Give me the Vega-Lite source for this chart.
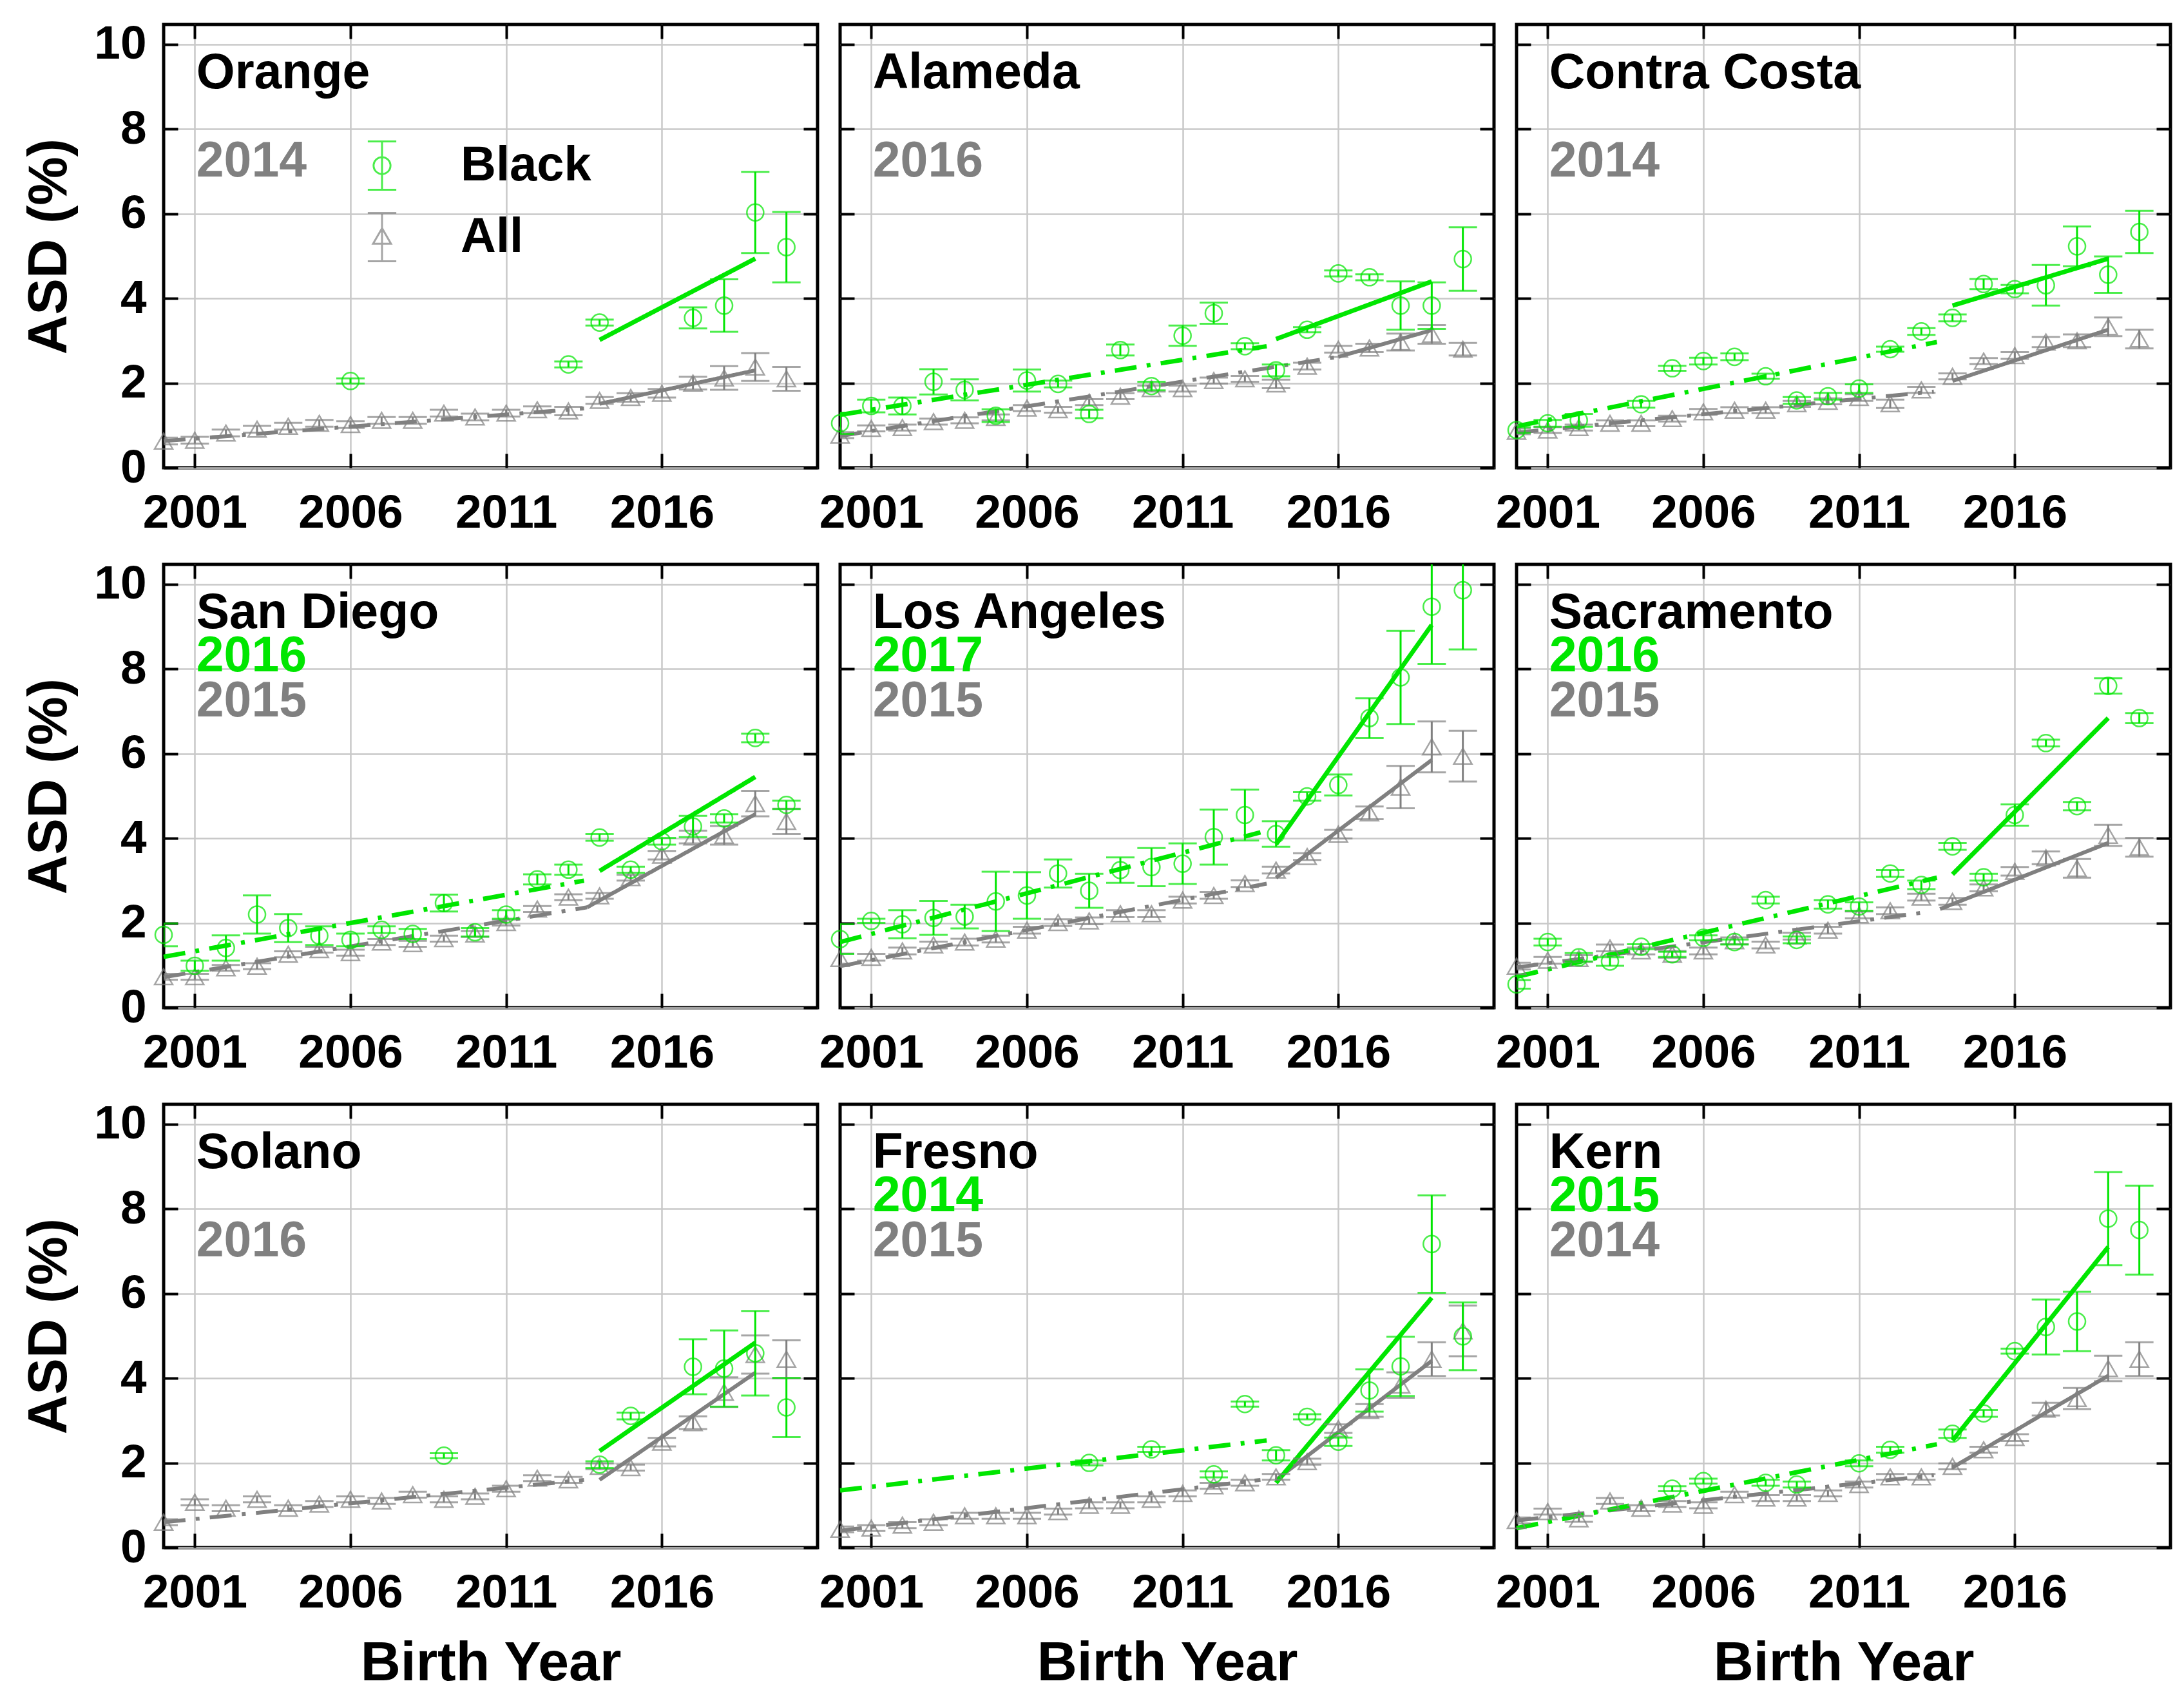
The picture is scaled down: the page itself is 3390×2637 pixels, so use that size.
{
"$schema":"https://vega.github.io/schema/vega-lite/v6.json",
"background":"white",
"padding":{"left":32,"top":30,"right":25,"bottom":10},
"config":{
 "font":"Liberation Sans",
 "view":{"stroke":"black","strokeWidth":5},
 "axis":{"labelFontSize":73,"labelFontWeight":"bold","labelColor":"black","grid":true,"gridColor":"#c8c8c8","gridWidth":2.5,"domain":false,"tickSize":-22,"tickColor":"black","tickWidth":4,"titleFontWeight":"bold","titleColor":"black","labelFlush":false,"labelOverlap":false},
 "axisX":{"labelPadding":56,"titleFontSize":86,"titlePadding":30},
 "axisY":{"labelPadding":49,"titleFontSize":85,"titlePadding":25}
},
"datasets":{"d":[
{"c":"Orange","g":"L","name":"Orange","b":"","a":"2014"},
{"c":"Alameda","g":"L","name":"Alameda","b":"","a":"2016"},
{"c":"Contra Costa","g":"L","name":"Contra Costa","b":"","a":"2014"},
{"c":"San Diego","g":"L","name":"San Diego","b":"2016","a":"2015"},
{"c":"Los Angeles","g":"L","name":"Los Angeles","b":"2017","a":"2015"},
{"c":"Sacramento","g":"L","name":"Sacramento","b":"2016","a":"2015"},
{"c":"Solano","g":"L","name":"Solano","b":"","a":"2016"},
{"c":"Fresno","g":"L","name":"Fresno","b":"2014","a":"2015"},
{"c":"Kern","g":"L","name":"Kern","b":"2015","a":"2014"},

{"c":"Orange","g":"fB","s":"post","x":2014,"v":3.02},{"c":"Orange","g":"fB","s":"post","x":2019,"v":4.94},
{"c":"Orange","g":"fA","s":"pre","x":2000,"v":0.63},{"c":"Orange","g":"fA","s":"pre","x":2013.5,"v":1.4},
{"c":"Orange","g":"fA","s":"post","x":2014,"v":1.51},{"c":"Orange","g":"fA","s":"post","x":2019,"v":2.3},
{"c":"Alameda","g":"fB","s":"pre","x":2000,"v":1.25},{"c":"Alameda","g":"fB","s":"pre","x":2013.7,"v":2.87},
{"c":"Alameda","g":"fB","s":"post","x":2014,"v":3.04},{"c":"Alameda","g":"fB","s":"post","x":2019,"v":4.4},
{"c":"Alameda","g":"fA","s":"pre","x":2000,"v":0.75},{"c":"Alameda","g":"fA","s":"pre","x":2016,"v":2.62},
{"c":"Alameda","g":"fA","s":"post","x":2016,"v":2.62},{"c":"Alameda","g":"fA","s":"post","x":2019,"v":3.25},
{"c":"Contra Costa","g":"fB","s":"pre","x":2000,"v":0.98},{"c":"Contra Costa","g":"fB","s":"pre","x":2013.5,"v":2.97},
{"c":"Contra Costa","g":"fB","s":"post","x":2014,"v":3.83},{"c":"Contra Costa","g":"fB","s":"post","x":2019,"v":4.94},
{"c":"Contra Costa","g":"fA","s":"pre","x":2000,"v":0.83},{"c":"Contra Costa","g":"fA","s":"pre","x":2013.4,"v":1.8},
{"c":"Contra Costa","g":"fA","s":"post","x":2014,"v":2.05},{"c":"Contra Costa","g":"fA","s":"post","x":2019,"v":3.26},
{"c":"San Diego","g":"fB","s":"pre","x":2000,"v":1.2},{"c":"San Diego","g":"fB","s":"pre","x":2013.5,"v":3.0},
{"c":"San Diego","g":"fB","s":"post","x":2014,"v":3.23},{"c":"San Diego","g":"fB","s":"post","x":2019,"v":5.45},
{"c":"San Diego","g":"fA","s":"pre","x":2000,"v":0.72},{"c":"San Diego","g":"fA","s":"pre","x":2013.6,"v":2.37},
{"c":"San Diego","g":"fA","s":"post","x":2013.6,"v":2.37},{"c":"San Diego","g":"fA","s":"post","x":2019,"v":4.57},
{"c":"Los Angeles","g":"fB","s":"pre","x":2000,"v":1.55},{"c":"Los Angeles","g":"fB","s":"pre","x":2013.5,"v":4.14},
{"c":"Los Angeles","g":"fB","s":"post","x":2014,"v":3.86},{"c":"Los Angeles","g":"fB","s":"post","x":2019,"v":9.04},
{"c":"Los Angeles","g":"fA","s":"pre","x":2000,"v":0.98},{"c":"Los Angeles","g":"fA","s":"pre","x":2013.7,"v":2.93},
{"c":"Los Angeles","g":"fA","s":"post","x":2014,"v":3.07},{"c":"Los Angeles","g":"fA","s":"post","x":2019,"v":5.85},
{"c":"Sacramento","g":"fB","s":"pre","x":2000,"v":0.73},{"c":"Sacramento","g":"fB","s":"pre","x":2013.5,"v":3.07},
{"c":"Sacramento","g":"fB","s":"post","x":2014,"v":3.15},{"c":"Sacramento","g":"fB","s":"post","x":2019,"v":6.84},
{"c":"Sacramento","g":"fA","s":"pre","x":2000,"v":0.95},{"c":"Sacramento","g":"fA","s":"pre","x":2013.2,"v":2.26},
{"c":"Sacramento","g":"fA","s":"post","x":2013.6,"v":2.33},{"c":"Sacramento","g":"fA","s":"post","x":2019,"v":3.89},
{"c":"Solano","g":"fB","s":"post","x":2014,"v":2.28},{"c":"Solano","g":"fB","s":"post","x":2019,"v":4.84},
{"c":"Solano","g":"fA","s":"pre","x":2000,"v":0.6},{"c":"Solano","g":"fA","s":"pre","x":2013.5,"v":1.6},
{"c":"Solano","g":"fA","s":"post","x":2014,"v":1.6},{"c":"Solano","g":"fA","s":"post","x":2019,"v":4.13},
{"c":"Fresno","g":"fB","s":"pre","x":2000,"v":1.35},{"c":"Fresno","g":"fB","s":"pre","x":2013.7,"v":2.53},
{"c":"Fresno","g":"fB","s":"post","x":2014,"v":1.53},{"c":"Fresno","g":"fB","s":"post","x":2019,"v":5.9},
{"c":"Fresno","g":"fA","s":"pre","x":2000,"v":0.4},{"c":"Fresno","g":"fA","s":"pre","x":2013.5,"v":1.6},
{"c":"Fresno","g":"fA","s":"post","x":2014,"v":1.6},{"c":"Fresno","g":"fA","s":"post","x":2019,"v":4.41},
{"c":"Kern","g":"fB","s":"pre","x":2000,"v":0.46},{"c":"Kern","g":"fB","s":"pre","x":2013.5,"v":2.44},
{"c":"Kern","g":"fB","s":"post","x":2014,"v":2.53},{"c":"Kern","g":"fB","s":"post","x":2019,"v":7.1},
{"c":"Kern","g":"fA","s":"pre","x":2000,"v":0.64},{"c":"Kern","g":"fA","s":"pre","x":2013.4,"v":1.71},
{"c":"Kern","g":"fA","s":"post","x":2014,"v":1.89},{"c":"Kern","g":"fA","s":"post","x":2019,"v":4.06},

{"c":"Orange","g":"A","x":2000,"v":0.63,"lo":0.55,"hi":0.71},
{"c":"Orange","g":"A","x":2001,"v":0.65,"lo":0.57,"hi":0.73},
{"c":"Orange","g":"A","x":2002,"v":0.82,"lo":0.74,"hi":0.9},
{"c":"Orange","g":"A","x":2003,"v":0.91,"lo":0.83,"hi":0.99},
{"c":"Orange","g":"A","x":2004,"v":0.98,"lo":0.9,"hi":1.06},
{"c":"Orange","g":"A","x":2005,"v":1.05,"lo":0.97,"hi":1.13},
{"c":"Orange","g":"A","x":2006,"v":1.02,"lo":0.94,"hi":1.1},
{"c":"Orange","g":"A","x":2007,"v":1.12,"lo":1.04,"hi":1.2},
{"c":"Orange","g":"A","x":2008,"v":1.12,"lo":1.04,"hi":1.2},
{"c":"Orange","g":"A","x":2009,"v":1.29,"lo":1.21,"hi":1.37},
{"c":"Orange","g":"A","x":2010,"v":1.2,"lo":1.12,"hi":1.28},
{"c":"Orange","g":"A","x":2011,"v":1.29,"lo":1.21,"hi":1.37},
{"c":"Orange","g":"A","x":2012,"v":1.37,"lo":1.29,"hi":1.45},
{"c":"Orange","g":"A","x":2013,"v":1.34,"lo":1.24,"hi":1.44},
{"c":"Orange","g":"A","x":2014,"v":1.59,"lo":1.51,"hi":1.67},
{"c":"Orange","g":"A","x":2015,"v":1.66,"lo":1.56,"hi":1.76},
{"c":"Orange","g":"A","x":2016,"v":1.76,"lo":1.66,"hi":1.86},
{"c":"Orange","g":"A","x":2017,"v":2.0,"lo":1.85,"hi":2.15},
{"c":"Orange","g":"A","x":2018,"v":2.12,"lo":1.84,"hi":2.4},
{"c":"Orange","g":"A","x":2019,"v":2.38,"lo":2.05,"hi":2.71},
{"c":"Orange","g":"A","x":2020,"v":2.1,"lo":1.82,"hi":2.38},
{"c":"Orange","g":"B","x":2006,"v":2.05,"lo":1.99,"hi":2.11},
{"c":"Orange","g":"B","x":2013,"v":2.44,"lo":2.37,"hi":2.51},
{"c":"Orange","g":"B","x":2014,"v":3.43,"lo":3.36,"hi":3.5},
{"c":"Orange","g":"B","x":2017,"v":3.54,"lo":3.29,"hi":3.79},
{"c":"Orange","g":"B","x":2018,"v":3.83,"lo":3.21,"hi":4.45},
{"c":"Orange","g":"B","x":2019,"v":6.03,"lo":5.07,"hi":6.99},
{"c":"Orange","g":"B","x":2020,"v":5.21,"lo":4.38,"hi":6.04},

{"c":"Alameda","g":"A","x":2000,"v":0.77,"lo":0.7,"hi":0.84},
{"c":"Alameda","g":"A","x":2001,"v":0.93,"lo":0.86,"hi":1.0},
{"c":"Alameda","g":"A","x":2002,"v":0.95,"lo":0.88,"hi":1.02},
{"c":"Alameda","g":"A","x":2003,"v":1.09,"lo":1.02,"hi":1.16},
{"c":"Alameda","g":"A","x":2004,"v":1.12,"lo":1.05,"hi":1.19},
{"c":"Alameda","g":"A","x":2005,"v":1.19,"lo":1.12,"hi":1.26},
{"c":"Alameda","g":"A","x":2006,"v":1.41,"lo":1.34,"hi":1.48},
{"c":"Alameda","g":"A","x":2007,"v":1.37,"lo":1.3,"hi":1.44},
{"c":"Alameda","g":"A","x":2008,"v":1.55,"lo":1.48,"hi":1.62},
{"c":"Alameda","g":"A","x":2009,"v":1.69,"lo":1.62,"hi":1.76},
{"c":"Alameda","g":"A","x":2010,"v":1.87,"lo":1.8,"hi":1.94},
{"c":"Alameda","g":"A","x":2011,"v":1.87,"lo":1.8,"hi":1.94},
{"c":"Alameda","g":"A","x":2012,"v":2.06,"lo":1.99,"hi":2.13},
{"c":"Alameda","g":"A","x":2013,"v":2.1,"lo":2.03,"hi":2.17},
{"c":"Alameda","g":"A","x":2014,"v":1.98,"lo":1.88,"hi":2.08},
{"c":"Alameda","g":"A","x":2015,"v":2.4,"lo":2.32,"hi":2.48},
{"c":"Alameda","g":"A","x":2016,"v":2.8,"lo":2.72,"hi":2.88},
{"c":"Alameda","g":"A","x":2017,"v":2.83,"lo":2.73,"hi":2.93},
{"c":"Alameda","g":"A","x":2018,"v":2.97,"lo":2.77,"hi":3.17},
{"c":"Alameda","g":"A","x":2019,"v":3.15,"lo":2.93,"hi":3.37},
{"c":"Alameda","g":"A","x":2020,"v":2.8,"lo":2.65,"hi":2.95},
{"c":"Alameda","g":"B","x":2000,"v":1.05,"lo":0.8,"hi":1.3},
{"c":"Alameda","g":"B","x":2001,"v":1.46,"lo":1.31,"hi":1.61},
{"c":"Alameda","g":"B","x":2002,"v":1.46,"lo":1.26,"hi":1.66},
{"c":"Alameda","g":"B","x":2003,"v":2.03,"lo":1.73,"hi":2.33},
{"c":"Alameda","g":"B","x":2004,"v":1.84,"lo":1.59,"hi":2.09},
{"c":"Alameda","g":"B","x":2005,"v":1.23,"lo":1.08,"hi":1.38},
{"c":"Alameda","g":"B","x":2006,"v":2.06,"lo":1.8,"hi":2.32},
{"c":"Alameda","g":"B","x":2007,"v":1.98,"lo":1.9,"hi":2.06},
{"c":"Alameda","g":"B","x":2008,"v":1.27,"lo":1.17,"hi":1.37},
{"c":"Alameda","g":"B","x":2009,"v":2.78,"lo":2.65,"hi":2.91},
{"c":"Alameda","g":"B","x":2010,"v":1.93,"lo":1.83,"hi":2.03},
{"c":"Alameda","g":"B","x":2011,"v":3.12,"lo":2.88,"hi":3.36},
{"c":"Alameda","g":"B","x":2012,"v":3.65,"lo":3.4,"hi":3.9},
{"c":"Alameda","g":"B","x":2013,"v":2.87,"lo":2.8,"hi":2.94},
{"c":"Alameda","g":"B","x":2014,"v":2.3,"lo":2.16,"hi":2.44},
{"c":"Alameda","g":"B","x":2015,"v":3.26,"lo":3.2,"hi":3.32},
{"c":"Alameda","g":"B","x":2016,"v":4.59,"lo":4.52,"hi":4.66},
{"c":"Alameda","g":"B","x":2017,"v":4.5,"lo":4.43,"hi":4.57},
{"c":"Alameda","g":"B","x":2018,"v":3.83,"lo":3.26,"hi":4.4},
{"c":"Alameda","g":"B","x":2019,"v":3.83,"lo":3.28,"hi":4.38},
{"c":"Alameda","g":"B","x":2020,"v":4.93,"lo":4.18,"hi":5.68},

{"c":"Contra Costa","g":"A","x":2000,"v":0.86,"lo":0.79,"hi":0.93},
{"c":"Contra Costa","g":"A","x":2001,"v":0.89,"lo":0.82,"hi":0.96},
{"c":"Contra Costa","g":"A","x":2002,"v":0.95,"lo":0.88,"hi":1.02},
{"c":"Contra Costa","g":"A","x":2003,"v":1.05,"lo":0.98,"hi":1.12},
{"c":"Contra Costa","g":"A","x":2004,"v":1.05,"lo":0.98,"hi":1.12},
{"c":"Contra Costa","g":"A","x":2005,"v":1.16,"lo":1.09,"hi":1.23},
{"c":"Contra Costa","g":"A","x":2006,"v":1.32,"lo":1.25,"hi":1.39},
{"c":"Contra Costa","g":"A","x":2007,"v":1.36,"lo":1.29,"hi":1.43},
{"c":"Contra Costa","g":"A","x":2008,"v":1.36,"lo":1.29,"hi":1.43},
{"c":"Contra Costa","g":"A","x":2009,"v":1.51,"lo":1.44,"hi":1.58},
{"c":"Contra Costa","g":"A","x":2010,"v":1.57,"lo":1.5,"hi":1.64},
{"c":"Contra Costa","g":"A","x":2011,"v":1.66,"lo":1.58,"hi":1.74},
{"c":"Contra Costa","g":"A","x":2012,"v":1.51,"lo":1.41,"hi":1.61},
{"c":"Contra Costa","g":"A","x":2013,"v":1.84,"lo":1.77,"hi":1.91},
{"c":"Contra Costa","g":"A","x":2014,"v":2.16,"lo":2.09,"hi":2.23},
{"c":"Contra Costa","g":"A","x":2015,"v":2.52,"lo":2.45,"hi":2.59},
{"c":"Contra Costa","g":"A","x":2016,"v":2.65,"lo":2.57,"hi":2.73},
{"c":"Contra Costa","g":"A","x":2017,"v":2.97,"lo":2.85,"hi":3.09},
{"c":"Contra Costa","g":"A","x":2018,"v":3.0,"lo":2.85,"hi":3.15},
{"c":"Contra Costa","g":"A","x":2019,"v":3.33,"lo":3.11,"hi":3.55},
{"c":"Contra Costa","g":"A","x":2020,"v":3.04,"lo":2.82,"hi":3.26},
{"c":"Contra Costa","g":"B","x":2000,"v":0.89,"lo":0.82,"hi":0.96},
{"c":"Contra Costa","g":"B","x":2001,"v":1.05,"lo":0.97,"hi":1.13},
{"c":"Contra Costa","g":"B","x":2002,"v":1.12,"lo":0.97,"hi":1.27},
{"c":"Contra Costa","g":"B","x":2004,"v":1.5,"lo":1.42,"hi":1.58},
{"c":"Contra Costa","g":"B","x":2005,"v":2.35,"lo":2.29,"hi":2.41},
{"c":"Contra Costa","g":"B","x":2006,"v":2.52,"lo":2.44,"hi":2.6},
{"c":"Contra Costa","g":"B","x":2007,"v":2.62,"lo":2.54,"hi":2.7},
{"c":"Contra Costa","g":"B","x":2008,"v":2.16,"lo":2.1,"hi":2.22},
{"c":"Contra Costa","g":"B","x":2009,"v":1.59,"lo":1.51,"hi":1.67},
{"c":"Contra Costa","g":"B","x":2010,"v":1.69,"lo":1.61,"hi":1.77},
{"c":"Contra Costa","g":"B","x":2011,"v":1.87,"lo":1.77,"hi":1.97},
{"c":"Contra Costa","g":"B","x":2012,"v":2.8,"lo":2.74,"hi":2.86},
{"c":"Contra Costa","g":"B","x":2013,"v":3.22,"lo":3.14,"hi":3.3},
{"c":"Contra Costa","g":"B","x":2014,"v":3.54,"lo":3.46,"hi":3.62},
{"c":"Contra Costa","g":"B","x":2015,"v":4.34,"lo":4.22,"hi":4.46},
{"c":"Contra Costa","g":"B","x":2016,"v":4.22,"lo":4.12,"hi":4.32},
{"c":"Contra Costa","g":"B","x":2017,"v":4.31,"lo":3.83,"hi":4.79},
{"c":"Contra Costa","g":"B","x":2018,"v":5.23,"lo":4.76,"hi":5.7},
{"c":"Contra Costa","g":"B","x":2019,"v":4.56,"lo":4.13,"hi":4.99},
{"c":"Contra Costa","g":"B","x":2020,"v":5.57,"lo":5.07,"hi":6.07},

{"c":"San Diego","g":"A","x":2000,"v":0.73,"lo":0.66,"hi":0.8},
{"c":"San Diego","g":"A","x":2001,"v":0.73,"lo":0.66,"hi":0.8},
{"c":"San Diego","g":"A","x":2002,"v":0.94,"lo":0.87,"hi":1.01},
{"c":"San Diego","g":"A","x":2003,"v":0.98,"lo":0.91,"hi":1.05},
{"c":"San Diego","g":"A","x":2004,"v":1.26,"lo":1.19,"hi":1.33},
{"c":"San Diego","g":"A","x":2005,"v":1.37,"lo":1.3,"hi":1.44},
{"c":"San Diego","g":"A","x":2006,"v":1.3,"lo":1.23,"hi":1.37},
{"c":"San Diego","g":"A","x":2007,"v":1.55,"lo":1.48,"hi":1.62},
{"c":"San Diego","g":"A","x":2008,"v":1.51,"lo":1.44,"hi":1.58},
{"c":"San Diego","g":"A","x":2009,"v":1.63,"lo":1.56,"hi":1.7},
{"c":"San Diego","g":"A","x":2010,"v":1.74,"lo":1.67,"hi":1.81},
{"c":"San Diego","g":"A","x":2011,"v":2.01,"lo":1.94,"hi":2.08},
{"c":"San Diego","g":"A","x":2012,"v":2.33,"lo":2.26,"hi":2.4},
{"c":"San Diego","g":"A","x":2013,"v":2.61,"lo":2.54,"hi":2.68},
{"c":"San Diego","g":"A","x":2014,"v":2.64,"lo":2.57,"hi":2.71},
{"c":"San Diego","g":"A","x":2015,"v":3.07,"lo":3.0,"hi":3.14},
{"c":"San Diego","g":"A","x":2016,"v":3.6,"lo":3.5,"hi":3.7},
{"c":"San Diego","g":"A","x":2017,"v":4.03,"lo":3.88,"hi":4.18},
{"c":"San Diego","g":"A","x":2018,"v":4.07,"lo":3.85,"hi":4.29},
{"c":"San Diego","g":"A","x":2019,"v":4.82,"lo":4.52,"hi":5.12},
{"c":"San Diego","g":"A","x":2020,"v":4.4,"lo":4.1,"hi":4.7},
{"c":"San Diego","g":"B","x":2000,"v":1.72,"lo":1.45,"hi":1.99},
{"c":"San Diego","g":"B","x":2001,"v":0.99,"lo":0.87,"hi":1.11},
{"c":"San Diego","g":"B","x":2002,"v":1.41,"lo":1.11,"hi":1.71},
{"c":"San Diego","g":"B","x":2003,"v":2.2,"lo":1.75,"hi":2.65},
{"c":"San Diego","g":"B","x":2004,"v":1.88,"lo":1.55,"hi":2.21},
{"c":"San Diego","g":"B","x":2005,"v":1.7,"lo":1.48,"hi":1.92},
{"c":"San Diego","g":"B","x":2006,"v":1.6,"lo":1.45,"hi":1.75},
{"c":"San Diego","g":"B","x":2007,"v":1.84,"lo":1.76,"hi":1.92},
{"c":"San Diego","g":"B","x":2008,"v":1.74,"lo":1.62,"hi":1.86},
{"c":"San Diego","g":"B","x":2009,"v":2.47,"lo":2.27,"hi":2.67},
{"c":"San Diego","g":"B","x":2010,"v":1.78,"lo":1.68,"hi":1.88},
{"c":"San Diego","g":"B","x":2011,"v":2.2,"lo":2.1,"hi":2.3},
{"c":"San Diego","g":"B","x":2012,"v":3.03,"lo":2.91,"hi":3.15},
{"c":"San Diego","g":"B","x":2013,"v":3.26,"lo":3.14,"hi":3.38},
{"c":"San Diego","g":"B","x":2014,"v":4.02,"lo":3.94,"hi":4.1},
{"c":"San Diego","g":"B","x":2015,"v":3.26,"lo":3.19,"hi":3.33},
{"c":"San Diego","g":"B","x":2016,"v":3.93,"lo":3.85,"hi":4.01},
{"c":"San Diego","g":"B","x":2017,"v":4.28,"lo":4.03,"hi":4.53},
{"c":"San Diego","g":"B","x":2018,"v":4.47,"lo":4.37,"hi":4.57},
{"c":"San Diego","g":"B","x":2019,"v":6.37,"lo":6.27,"hi":6.47},
{"c":"San Diego","g":"B","x":2020,"v":4.79,"lo":4.69,"hi":4.89},

{"c":"Los Angeles","g":"A","x":2000,"v":1.16,"lo":1.04,"hi":1.28},
{"c":"Los Angeles","g":"A","x":2001,"v":1.19,"lo":1.11,"hi":1.27},
{"c":"Los Angeles","g":"A","x":2002,"v":1.34,"lo":1.26,"hi":1.42},
{"c":"Los Angeles","g":"A","x":2003,"v":1.48,"lo":1.4,"hi":1.56},
{"c":"Los Angeles","g":"A","x":2004,"v":1.55,"lo":1.47,"hi":1.63},
{"c":"Los Angeles","g":"A","x":2005,"v":1.62,"lo":1.54,"hi":1.7},
{"c":"Los Angeles","g":"A","x":2006,"v":1.83,"lo":1.75,"hi":1.91},
{"c":"Los Angeles","g":"A","x":2007,"v":2.01,"lo":1.93,"hi":2.09},
{"c":"Los Angeles","g":"A","x":2008,"v":2.05,"lo":1.97,"hi":2.13},
{"c":"Los Angeles","g":"A","x":2009,"v":2.22,"lo":2.14,"hi":2.3},
{"c":"Los Angeles","g":"A","x":2010,"v":2.22,"lo":2.14,"hi":2.3},
{"c":"Los Angeles","g":"A","x":2011,"v":2.54,"lo":2.46,"hi":2.62},
{"c":"Los Angeles","g":"A","x":2012,"v":2.65,"lo":2.57,"hi":2.73},
{"c":"Los Angeles","g":"A","x":2013,"v":2.93,"lo":2.85,"hi":3.01},
{"c":"Los Angeles","g":"A","x":2014,"v":3.25,"lo":3.17,"hi":3.33},
{"c":"Los Angeles","g":"A","x":2015,"v":3.57,"lo":3.49,"hi":3.65},
{"c":"Los Angeles","g":"A","x":2016,"v":4.1,"lo":4.0,"hi":4.2},
{"c":"Los Angeles","g":"A","x":2017,"v":4.6,"lo":4.45,"hi":4.75},
{"c":"Los Angeles","g":"A","x":2018,"v":5.21,"lo":4.71,"hi":5.71},
{"c":"Los Angeles","g":"A","x":2019,"v":6.16,"lo":5.56,"hi":6.76},
{"c":"Los Angeles","g":"A","x":2020,"v":5.94,"lo":5.34,"hi":6.54},
{"c":"Los Angeles","g":"B","x":2000,"v":1.62,"lo":1.27,"hi":1.97},
{"c":"Los Angeles","g":"B","x":2001,"v":2.05,"lo":2.0,"hi":2.1},
{"c":"Los Angeles","g":"B","x":2002,"v":1.97,"lo":1.64,"hi":2.3},
{"c":"Los Angeles","g":"B","x":2003,"v":2.12,"lo":1.72,"hi":2.52},
{"c":"Los Angeles","g":"B","x":2004,"v":2.15,"lo":1.87,"hi":2.43},
{"c":"Los Angeles","g":"B","x":2005,"v":2.51,"lo":1.81,"hi":3.21},
{"c":"Los Angeles","g":"B","x":2006,"v":2.65,"lo":2.1,"hi":3.2},
{"c":"Los Angeles","g":"B","x":2007,"v":3.17,"lo":2.84,"hi":3.5},
{"c":"Los Angeles","g":"B","x":2008,"v":2.76,"lo":2.36,"hi":3.16},
{"c":"Los Angeles","g":"B","x":2009,"v":3.25,"lo":2.95,"hi":3.55},
{"c":"Los Angeles","g":"B","x":2010,"v":3.32,"lo":2.87,"hi":3.77},
{"c":"Los Angeles","g":"B","x":2011,"v":3.4,"lo":2.92,"hi":3.88},
{"c":"Los Angeles","g":"B","x":2012,"v":4.03,"lo":3.38,"hi":4.68},
{"c":"Los Angeles","g":"B","x":2013,"v":4.55,"lo":3.95,"hi":5.15},
{"c":"Los Angeles","g":"B","x":2014,"v":4.1,"lo":3.8,"hi":4.4},
{"c":"Los Angeles","g":"B","x":2015,"v":4.99,"lo":4.89,"hi":5.09},
{"c":"Los Angeles","g":"B","x":2016,"v":5.26,"lo":5.01,"hi":5.51},
{"c":"Los Angeles","g":"B","x":2017,"v":6.84,"lo":6.37,"hi":7.31},
{"c":"Los Angeles","g":"B","x":2018,"v":7.8,"lo":6.7,"hi":8.9},
{"c":"Los Angeles","g":"B","x":2019,"v":9.47,"lo":8.12,"hi":10.82},
{"c":"Los Angeles","g":"B","x":2020,"v":9.86,"lo":8.46,"hi":11.26},

{"c":"Sacramento","g":"A","x":2000,"v":0.98,"lo":0.9,"hi":1.06},
{"c":"Sacramento","g":"A","x":2001,"v":1.12,"lo":1.04,"hi":1.2},
{"c":"Sacramento","g":"A","x":2002,"v":1.16,"lo":1.08,"hi":1.24},
{"c":"Sacramento","g":"A","x":2003,"v":1.41,"lo":1.33,"hi":1.49},
{"c":"Sacramento","g":"A","x":2004,"v":1.34,"lo":1.26,"hi":1.42},
{"c":"Sacramento","g":"A","x":2005,"v":1.26,"lo":1.18,"hi":1.34},
{"c":"Sacramento","g":"A","x":2006,"v":1.34,"lo":1.26,"hi":1.42},
{"c":"Sacramento","g":"A","x":2007,"v":1.58,"lo":1.5,"hi":1.66},
{"c":"Sacramento","g":"A","x":2008,"v":1.48,"lo":1.4,"hi":1.56},
{"c":"Sacramento","g":"A","x":2009,"v":1.69,"lo":1.61,"hi":1.77},
{"c":"Sacramento","g":"A","x":2010,"v":1.83,"lo":1.75,"hi":1.91},
{"c":"Sacramento","g":"A","x":2011,"v":2.19,"lo":2.11,"hi":2.27},
{"c":"Sacramento","g":"A","x":2012,"v":2.29,"lo":2.21,"hi":2.37},
{"c":"Sacramento","g":"A","x":2013,"v":2.61,"lo":2.53,"hi":2.69},
{"c":"Sacramento","g":"A","x":2014,"v":2.51,"lo":2.43,"hi":2.59},
{"c":"Sacramento","g":"A","x":2015,"v":2.83,"lo":2.75,"hi":2.91},
{"c":"Sacramento","g":"A","x":2016,"v":3.22,"lo":3.12,"hi":3.32},
{"c":"Sacramento","g":"A","x":2017,"v":3.54,"lo":3.39,"hi":3.69},
{"c":"Sacramento","g":"A","x":2018,"v":3.29,"lo":3.07,"hi":3.51},
{"c":"Sacramento","g":"A","x":2019,"v":4.07,"lo":3.82,"hi":4.32},
{"c":"Sacramento","g":"A","x":2020,"v":3.79,"lo":3.57,"hi":4.01},
{"c":"Sacramento","g":"B","x":2000,"v":0.55,"lo":0.45,"hi":0.65},
{"c":"Sacramento","g":"B","x":2001,"v":1.55,"lo":1.47,"hi":1.63},
{"c":"Sacramento","g":"B","x":2002,"v":1.19,"lo":1.09,"hi":1.29},
{"c":"Sacramento","g":"B","x":2003,"v":1.09,"lo":0.99,"hi":1.19},
{"c":"Sacramento","g":"B","x":2004,"v":1.44,"lo":1.38,"hi":1.5},
{"c":"Sacramento","g":"B","x":2005,"v":1.26,"lo":1.2,"hi":1.32},
{"c":"Sacramento","g":"B","x":2006,"v":1.65,"lo":1.59,"hi":1.71},
{"c":"Sacramento","g":"B","x":2007,"v":1.55,"lo":1.49,"hi":1.61},
{"c":"Sacramento","g":"B","x":2008,"v":2.54,"lo":2.46,"hi":2.62},
{"c":"Sacramento","g":"B","x":2009,"v":1.6,"lo":1.52,"hi":1.68},
{"c":"Sacramento","g":"B","x":2010,"v":2.44,"lo":2.34,"hi":2.54},
{"c":"Sacramento","g":"B","x":2011,"v":2.39,"lo":2.29,"hi":2.49},
{"c":"Sacramento","g":"B","x":2012,"v":3.17,"lo":3.09,"hi":3.25},
{"c":"Sacramento","g":"B","x":2013,"v":2.9,"lo":2.8,"hi":3.0},
{"c":"Sacramento","g":"B","x":2014,"v":3.81,"lo":3.73,"hi":3.89},
{"c":"Sacramento","g":"B","x":2015,"v":3.08,"lo":3.0,"hi":3.16},
{"c":"Sacramento","g":"B","x":2016,"v":4.55,"lo":4.3,"hi":4.8},
{"c":"Sacramento","g":"B","x":2017,"v":6.25,"lo":6.17,"hi":6.33},
{"c":"Sacramento","g":"B","x":2018,"v":4.76,"lo":4.66,"hi":4.86},
{"c":"Sacramento","g":"B","x":2019,"v":7.6,"lo":7.42,"hi":7.78},
{"c":"Sacramento","g":"B","x":2020,"v":6.84,"lo":6.72,"hi":6.96},

{"c":"Solano","g":"A","x":2000,"v":0.6,"lo":0.53,"hi":0.67},
{"c":"Solano","g":"A","x":2001,"v":1.07,"lo":1.0,"hi":1.14},
{"c":"Solano","g":"A","x":2002,"v":0.93,"lo":0.86,"hi":1.0},
{"c":"Solano","g":"A","x":2003,"v":1.14,"lo":1.07,"hi":1.21},
{"c":"Solano","g":"A","x":2004,"v":0.93,"lo":0.86,"hi":1.0},
{"c":"Solano","g":"A","x":2005,"v":1.03,"lo":0.96,"hi":1.1},
{"c":"Solano","g":"A","x":2006,"v":1.14,"lo":1.07,"hi":1.21},
{"c":"Solano","g":"A","x":2007,"v":1.1,"lo":1.03,"hi":1.17},
{"c":"Solano","g":"A","x":2008,"v":1.25,"lo":1.18,"hi":1.32},
{"c":"Solano","g":"A","x":2009,"v":1.14,"lo":1.07,"hi":1.21},
{"c":"Solano","g":"A","x":2010,"v":1.21,"lo":1.14,"hi":1.28},
{"c":"Solano","g":"A","x":2011,"v":1.39,"lo":1.32,"hi":1.46},
{"c":"Solano","g":"A","x":2012,"v":1.64,"lo":1.57,"hi":1.71},
{"c":"Solano","g":"A","x":2013,"v":1.6,"lo":1.53,"hi":1.67},
{"c":"Solano","g":"A","x":2014,"v":1.92,"lo":1.85,"hi":1.99},
{"c":"Solano","g":"A","x":2015,"v":1.89,"lo":1.82,"hi":1.96},
{"c":"Solano","g":"A","x":2016,"v":2.49,"lo":2.39,"hi":2.59},
{"c":"Solano","g":"A","x":2017,"v":2.95,"lo":2.8,"hi":3.1},
{"c":"Solano","g":"A","x":2018,"v":3.67,"lo":3.32,"hi":4.02},
{"c":"Solano","g":"A","x":2019,"v":4.56,"lo":4.11,"hi":5.01},
{"c":"Solano","g":"A","x":2020,"v":4.45,"lo":4.0,"hi":4.9},
{"c":"Solano","g":"B","x":2009,"v":2.17,"lo":2.11,"hi":2.23},
{"c":"Solano","g":"B","x":2014,"v":1.96,"lo":1.88,"hi":2.04},
{"c":"Solano","g":"B","x":2015,"v":3.11,"lo":3.03,"hi":3.19},
{"c":"Solano","g":"B","x":2017,"v":4.27,"lo":3.62,"hi":4.92},
{"c":"Solano","g":"B","x":2018,"v":4.23,"lo":3.33,"hi":5.13},
{"c":"Solano","g":"B","x":2019,"v":4.59,"lo":3.59,"hi":5.59},
{"c":"Solano","g":"B","x":2020,"v":3.31,"lo":2.61,"hi":4.01},

{"c":"Fresno","g":"A","x":2000,"v":0.43,"lo":0.36,"hi":0.5},
{"c":"Fresno","g":"A","x":2001,"v":0.46,"lo":0.39,"hi":0.53},
{"c":"Fresno","g":"A","x":2002,"v":0.53,"lo":0.46,"hi":0.6},
{"c":"Fresno","g":"A","x":2003,"v":0.6,"lo":0.53,"hi":0.67},
{"c":"Fresno","g":"A","x":2004,"v":0.75,"lo":0.68,"hi":0.82},
{"c":"Fresno","g":"A","x":2005,"v":0.75,"lo":0.68,"hi":0.82},
{"c":"Fresno","g":"A","x":2006,"v":0.75,"lo":0.68,"hi":0.82},
{"c":"Fresno","g":"A","x":2007,"v":0.85,"lo":0.78,"hi":0.92},
{"c":"Fresno","g":"A","x":2008,"v":1.0,"lo":0.93,"hi":1.07},
{"c":"Fresno","g":"A","x":2009,"v":1.0,"lo":0.93,"hi":1.07},
{"c":"Fresno","g":"A","x":2010,"v":1.14,"lo":1.07,"hi":1.21},
{"c":"Fresno","g":"A","x":2011,"v":1.28,"lo":1.21,"hi":1.35},
{"c":"Fresno","g":"A","x":2012,"v":1.46,"lo":1.39,"hi":1.53},
{"c":"Fresno","g":"A","x":2013,"v":1.53,"lo":1.46,"hi":1.6},
{"c":"Fresno","g":"A","x":2014,"v":1.67,"lo":1.6,"hi":1.74},
{"c":"Fresno","g":"A","x":2015,"v":2.03,"lo":1.96,"hi":2.1},
{"c":"Fresno","g":"A","x":2016,"v":2.81,"lo":2.71,"hi":2.91},
{"c":"Fresno","g":"A","x":2017,"v":3.24,"lo":3.09,"hi":3.39},
{"c":"Fresno","g":"A","x":2018,"v":3.84,"lo":3.54,"hi":4.14},
{"c":"Fresno","g":"A","x":2019,"v":4.45,"lo":4.05,"hi":4.85},
{"c":"Fresno","g":"A","x":2020,"v":5.12,"lo":4.52,"hi":5.72},
{"c":"Fresno","g":"B","x":2008,"v":2.0,"lo":1.94,"hi":2.06},
{"c":"Fresno","g":"B","x":2010,"v":2.32,"lo":2.26,"hi":2.38},
{"c":"Fresno","g":"B","x":2012,"v":1.73,"lo":1.66,"hi":1.8},
{"c":"Fresno","g":"B","x":2013,"v":3.39,"lo":3.33,"hi":3.45},
{"c":"Fresno","g":"B","x":2014,"v":2.18,"lo":2.06,"hi":2.3},
{"c":"Fresno","g":"B","x":2015,"v":3.09,"lo":3.03,"hi":3.15},
{"c":"Fresno","g":"B","x":2016,"v":2.5,"lo":2.4,"hi":2.6},
{"c":"Fresno","g":"B","x":2017,"v":3.71,"lo":3.21,"hi":4.21},
{"c":"Fresno","g":"B","x":2018,"v":4.28,"lo":3.58,"hi":4.98},
{"c":"Fresno","g":"B","x":2019,"v":7.17,"lo":6.02,"hi":8.32},
{"c":"Fresno","g":"B","x":2020,"v":4.99,"lo":4.19,"hi":5.79},

{"c":"Kern","g":"A","x":2000,"v":0.64,"lo":0.57,"hi":0.71},
{"c":"Kern","g":"A","x":2001,"v":0.85,"lo":0.78,"hi":0.92},
{"c":"Kern","g":"A","x":2002,"v":0.68,"lo":0.61,"hi":0.75},
{"c":"Kern","g":"A","x":2003,"v":1.1,"lo":1.03,"hi":1.17},
{"c":"Kern","g":"A","x":2004,"v":0.93,"lo":0.86,"hi":1.0},
{"c":"Kern","g":"A","x":2005,"v":1.03,"lo":0.96,"hi":1.1},
{"c":"Kern","g":"A","x":2006,"v":1.0,"lo":0.93,"hi":1.07},
{"c":"Kern","g":"A","x":2007,"v":1.25,"lo":1.18,"hi":1.32},
{"c":"Kern","g":"A","x":2008,"v":1.17,"lo":1.1,"hi":1.24},
{"c":"Kern","g":"A","x":2009,"v":1.17,"lo":1.1,"hi":1.24},
{"c":"Kern","g":"A","x":2010,"v":1.28,"lo":1.21,"hi":1.35},
{"c":"Kern","g":"A","x":2011,"v":1.49,"lo":1.42,"hi":1.56},
{"c":"Kern","g":"A","x":2012,"v":1.67,"lo":1.6,"hi":1.74},
{"c":"Kern","g":"A","x":2013,"v":1.67,"lo":1.6,"hi":1.74},
{"c":"Kern","g":"A","x":2014,"v":1.92,"lo":1.85,"hi":1.99},
{"c":"Kern","g":"A","x":2015,"v":2.31,"lo":2.24,"hi":2.38},
{"c":"Kern","g":"A","x":2016,"v":2.6,"lo":2.52,"hi":2.68},
{"c":"Kern","g":"A","x":2017,"v":3.27,"lo":3.12,"hi":3.42},
{"c":"Kern","g":"A","x":2018,"v":3.52,"lo":3.27,"hi":3.77},
{"c":"Kern","g":"A","x":2019,"v":4.23,"lo":3.93,"hi":4.53},
{"c":"Kern","g":"A","x":2020,"v":4.45,"lo":4.05,"hi":4.85},
{"c":"Kern","g":"B","x":2005,"v":1.39,"lo":1.33,"hi":1.45},
{"c":"Kern","g":"B","x":2006,"v":1.57,"lo":1.51,"hi":1.63},
{"c":"Kern","g":"B","x":2008,"v":1.53,"lo":1.46,"hi":1.6},
{"c":"Kern","g":"B","x":2009,"v":1.49,"lo":1.42,"hi":1.56},
{"c":"Kern","g":"B","x":2011,"v":1.99,"lo":1.92,"hi":2.06},
{"c":"Kern","g":"B","x":2012,"v":2.31,"lo":2.24,"hi":2.38},
{"c":"Kern","g":"B","x":2014,"v":2.69,"lo":2.59,"hi":2.79},
{"c":"Kern","g":"B","x":2015,"v":3.17,"lo":3.09,"hi":3.25},
{"c":"Kern","g":"B","x":2016,"v":4.64,"lo":4.58,"hi":4.7},
{"c":"Kern","g":"B","x":2017,"v":5.21,"lo":4.56,"hi":5.86},
{"c":"Kern","g":"B","x":2018,"v":5.34,"lo":4.64,"hi":6.04},
{"c":"Kern","g":"B","x":2019,"v":7.77,"lo":6.67,"hi":8.87},
{"c":"Kern","g":"B","x":2020,"v":7.5,"lo":6.45,"hi":8.55}
]},
"data":{"name":"d"},
"columns":3,
"spacing":{"row":150,"column":35},
"bounds":"flush",
"concat":[
 {"width":1015,"height":688,"transform":[{"filter":"datum.c==='Orange'"}],"resolve":{"axis":{"x":"independent","y":"independent"}},
  "layer":[
   {"encoding":{"x":{"field":"x","type":"quantitative","scale":{"domain":[2000,2021],"nice":false,"zero":false},"axis":{"values":[2001,2006,2011,2016],"format":"d","title":null}},
     "y":{"field":"v","type":"quantitative","scale":{"domain":[0,10.47],"nice":false},"axis":{"values":[0,2,4,6,8,10],"title":"ASD (%)"}}},
    "layer":[
     {"transform":[{"filter":"datum.g==='fA'"}],"mark":{"type":"line","color":"#808080","strokeWidth":6},"encoding":{"strokeDash":{"field":"s","type":"nominal","scale":{"domain":["pre","post"],"range":[[34,16,6,16],[1,0]]},"legend":null}}},
     {"transform":[{"filter":"datum.g==='fB'"}],"mark":{"type":"line","color":"#00e600","strokeWidth":7},"encoding":{"strokeDash":{"field":"s","type":"nominal","scale":{"domain":["pre","post"],"range":[[34,16,6,16],[1,0]]},"legend":null}}},
     {"transform":[{"filter":"datum.g==='A'"}],"mark":{"type":"rule","color":"#808080","strokeWidth":3,"clip":true},"encoding":{"y":{"field":"lo","type":"quantitative","scale":{"domain":[0,10.47],"nice":false}},"y2":{"field":"hi"}}},
     {"transform":[{"filter":"datum.g==='A'"}],"mark":{"type":"tick","orient":"horizontal","color":"#808080","size":44,"thickness":3,"clip":true},"encoding":{"y":{"field":"lo","type":"quantitative","scale":{"domain":[0,10.47],"nice":false}}}},
     {"transform":[{"filter":"datum.g==='A'"}],"mark":{"type":"tick","orient":"horizontal","color":"#808080","size":44,"thickness":3,"clip":true},"encoding":{"y":{"field":"hi","type":"quantitative","scale":{"domain":[0,10.47],"nice":false}}}},
     {"transform":[{"filter":"datum.g==='A'"}],"mark":{"type":"point","shape":"triangle-up","filled":false,"color":"#808080","size":780,"strokeWidth":2.5}},
     {"transform":[{"filter":"datum.g==='B'"}],"mark":{"type":"rule","color":"#00e600","strokeWidth":3,"clip":true},"encoding":{"y":{"field":"lo","type":"quantitative","scale":{"domain":[0,10.47],"nice":false}},"y2":{"field":"hi"}}},
     {"transform":[{"filter":"datum.g==='B'"}],"mark":{"type":"tick","orient":"horizontal","color":"#00e600","size":44,"thickness":3,"clip":true},"encoding":{"y":{"field":"lo","type":"quantitative","scale":{"domain":[0,10.47],"nice":false}}}},
     {"transform":[{"filter":"datum.g==='B'"}],"mark":{"type":"tick","orient":"horizontal","color":"#00e600","size":44,"thickness":3,"clip":true},"encoding":{"y":{"field":"hi","type":"quantitative","scale":{"domain":[0,10.47],"nice":false}}}},
     {"transform":[{"filter":"datum.g==='B'"}],"mark":{"type":"point","shape":"circle","filled":false,"color":"#00e600","size":680,"strokeWidth":2.5}},
     {"transform":[{"filter":"false"}],"mark":{"type":"point","filled":false,"strokeWidth":3},
      "encoding":{
       "shape":{"field":"g","type":"nominal","scale":{"domain":["Black","All"],"range":["M-0.35,0A0.35,0.35,0,1,1,0.35,0A0.35,0.35,0,1,1,-0.35,0M0,-1L0,1M-0.59,-1L0.59,-1M-0.59,1L0.59,1","M0,-0.37L0.37,0.27L-0.37,0.27ZM0,-1L0,1M-0.59,-1L0.59,-1M-0.59,1L0.59,1"]},"legend":{"orient":"none","legendX":300,"legendY":180,"title":null,"labelFontSize":76,"labelFontWeight":"bold","labelColor":"black","labelLimit":0,"symbolSize":5625,"symbolStrokeWidth":3,"labelOffset":83,"rowPadding":23}},
       "color":{"field":"g","type":"nominal","scale":{"domain":["Black","All"],"range":["#00e600","#808080"]},"legend":{"orient":"none","legendX":300,"legendY":180,"title":null,"labelFontSize":76,"labelFontWeight":"bold","labelColor":"black","labelLimit":0,"symbolSize":5625,"symbolStrokeWidth":3,"labelOffset":83,"rowPadding":23}}
      }}
    ]},
   {"transform":[{"filter":"datum.g==='L'"}],"mark":{"type":"text","align":"left","baseline":"alphabetic","fontSize":77,"fontWeight":"bold","color":"black"},"encoding":{"x":{"datum":2001.05,"type":"quantitative","scale":{"domain":[2000,2021],"nice":false,"zero":false},"axis":{"orient":"top","labels":false,"grid":false,"title":null,"values":[2001,2006,2011,2016]}},"y":{"datum":8.96,"type":"quantitative","scale":{"domain":[0,10.47],"nice":false},"axis":{"orient":"right","labels":false,"grid":false,"title":null,"values":[0,2,4,6,8,10]}},"text":{"field":"name"}}},
   {"transform":[{"filter":"datum.g==='L'"}],"mark":{"type":"text","align":"left","baseline":"alphabetic","fontSize":77,"fontWeight":"bold","color":"#00e600"},"encoding":{"x":{"datum":2001.05,"type":"quantitative","scale":{"domain":[2000,2021],"nice":false,"zero":false},"axis":null},"y":{"datum":7.95,"type":"quantitative","scale":{"domain":[0,10.47],"nice":false},"axis":null},"text":{"field":"b"}}},
   {"transform":[{"filter":"datum.g==='L'"}],"mark":{"type":"text","align":"left","baseline":"alphabetic","fontSize":77,"fontWeight":"bold","color":"#808080"},"encoding":{"x":{"datum":2001.05,"type":"quantitative","scale":{"domain":[2000,2021],"nice":false,"zero":false},"axis":null},"y":{"datum":6.88,"type":"quantitative","scale":{"domain":[0,10.47],"nice":false},"axis":null},"text":{"field":"a"}}}
  ]},
 {"width":1015,"height":688,"transform":[{"filter":"datum.c==='Alameda'"}],"resolve":{"axis":{"x":"independent","y":"independent"}},
  "layer":[
   {"encoding":{"x":{"field":"x","type":"quantitative","scale":{"domain":[2000,2021],"nice":false,"zero":false},"axis":{"values":[2001,2006,2011,2016],"format":"d","title":null}},
     "y":{"field":"v","type":"quantitative","scale":{"domain":[0,10.47],"nice":false},"axis":{"values":[0,2,4,6,8,10],"title":null,"labels":false}}},
    "layer":[
     {"transform":[{"filter":"datum.g==='fA'"}],"mark":{"type":"line","color":"#808080","strokeWidth":6},"encoding":{"strokeDash":{"field":"s","type":"nominal","scale":{"domain":["pre","post"],"range":[[34,16,6,16],[1,0]]},"legend":null}}},
     {"transform":[{"filter":"datum.g==='fB'"}],"mark":{"type":"line","color":"#00e600","strokeWidth":7},"encoding":{"strokeDash":{"field":"s","type":"nominal","scale":{"domain":["pre","post"],"range":[[34,16,6,16],[1,0]]},"legend":null}}},
     {"transform":[{"filter":"datum.g==='A'"}],"mark":{"type":"rule","color":"#808080","strokeWidth":3,"clip":true},"encoding":{"y":{"field":"lo","type":"quantitative","scale":{"domain":[0,10.47],"nice":false}},"y2":{"field":"hi"}}},
     {"transform":[{"filter":"datum.g==='A'"}],"mark":{"type":"tick","orient":"horizontal","color":"#808080","size":44,"thickness":3,"clip":true},"encoding":{"y":{"field":"lo","type":"quantitative","scale":{"domain":[0,10.47],"nice":false}}}},
     {"transform":[{"filter":"datum.g==='A'"}],"mark":{"type":"tick","orient":"horizontal","color":"#808080","size":44,"thickness":3,"clip":true},"encoding":{"y":{"field":"hi","type":"quantitative","scale":{"domain":[0,10.47],"nice":false}}}},
     {"transform":[{"filter":"datum.g==='A'"}],"mark":{"type":"point","shape":"triangle-up","filled":false,"color":"#808080","size":780,"strokeWidth":2.5}},
     {"transform":[{"filter":"datum.g==='B'"}],"mark":{"type":"rule","color":"#00e600","strokeWidth":3,"clip":true},"encoding":{"y":{"field":"lo","type":"quantitative","scale":{"domain":[0,10.47],"nice":false}},"y2":{"field":"hi"}}},
     {"transform":[{"filter":"datum.g==='B'"}],"mark":{"type":"tick","orient":"horizontal","color":"#00e600","size":44,"thickness":3,"clip":true},"encoding":{"y":{"field":"lo","type":"quantitative","scale":{"domain":[0,10.47],"nice":false}}}},
     {"transform":[{"filter":"datum.g==='B'"}],"mark":{"type":"tick","orient":"horizontal","color":"#00e600","size":44,"thickness":3,"clip":true},"encoding":{"y":{"field":"hi","type":"quantitative","scale":{"domain":[0,10.47],"nice":false}}}},
     {"transform":[{"filter":"datum.g==='B'"}],"mark":{"type":"point","shape":"circle","filled":false,"color":"#00e600","size":680,"strokeWidth":2.5}}
    ]},
   {"transform":[{"filter":"datum.g==='L'"}],"mark":{"type":"text","align":"left","baseline":"alphabetic","fontSize":77,"fontWeight":"bold","color":"black"},"encoding":{"x":{"datum":2001.05,"type":"quantitative","scale":{"domain":[2000,2021],"nice":false,"zero":false},"axis":{"orient":"top","labels":false,"grid":false,"title":null,"values":[2001,2006,2011,2016]}},"y":{"datum":8.96,"type":"quantitative","scale":{"domain":[0,10.47],"nice":false},"axis":{"orient":"right","labels":false,"grid":false,"title":null,"values":[0,2,4,6,8,10]}},"text":{"field":"name"}}},
   {"transform":[{"filter":"datum.g==='L'"}],"mark":{"type":"text","align":"left","baseline":"alphabetic","fontSize":77,"fontWeight":"bold","color":"#00e600"},"encoding":{"x":{"datum":2001.05,"type":"quantitative","scale":{"domain":[2000,2021],"nice":false,"zero":false},"axis":null},"y":{"datum":7.95,"type":"quantitative","scale":{"domain":[0,10.47],"nice":false},"axis":null},"text":{"field":"b"}}},
   {"transform":[{"filter":"datum.g==='L'"}],"mark":{"type":"text","align":"left","baseline":"alphabetic","fontSize":77,"fontWeight":"bold","color":"#808080"},"encoding":{"x":{"datum":2001.05,"type":"quantitative","scale":{"domain":[2000,2021],"nice":false,"zero":false},"axis":null},"y":{"datum":6.88,"type":"quantitative","scale":{"domain":[0,10.47],"nice":false},"axis":null},"text":{"field":"a"}}}
  ]},
 {"width":1015,"height":688,"transform":[{"filter":"datum.c==='Contra Costa'"}],"resolve":{"axis":{"x":"independent","y":"independent"}},
  "layer":[
   {"encoding":{"x":{"field":"x","type":"quantitative","scale":{"domain":[2000,2021],"nice":false,"zero":false},"axis":{"values":[2001,2006,2011,2016],"format":"d","title":null}},
     "y":{"field":"v","type":"quantitative","scale":{"domain":[0,10.47],"nice":false},"axis":{"values":[0,2,4,6,8,10],"title":null,"labels":false}}},
    "layer":[
     {"transform":[{"filter":"datum.g==='fA'"}],"mark":{"type":"line","color":"#808080","strokeWidth":6},"encoding":{"strokeDash":{"field":"s","type":"nominal","scale":{"domain":["pre","post"],"range":[[34,16,6,16],[1,0]]},"legend":null}}},
     {"transform":[{"filter":"datum.g==='fB'"}],"mark":{"type":"line","color":"#00e600","strokeWidth":7},"encoding":{"strokeDash":{"field":"s","type":"nominal","scale":{"domain":["pre","post"],"range":[[34,16,6,16],[1,0]]},"legend":null}}},
     {"transform":[{"filter":"datum.g==='A'"}],"mark":{"type":"rule","color":"#808080","strokeWidth":3,"clip":true},"encoding":{"y":{"field":"lo","type":"quantitative","scale":{"domain":[0,10.47],"nice":false}},"y2":{"field":"hi"}}},
     {"transform":[{"filter":"datum.g==='A'"}],"mark":{"type":"tick","orient":"horizontal","color":"#808080","size":44,"thickness":3,"clip":true},"encoding":{"y":{"field":"lo","type":"quantitative","scale":{"domain":[0,10.47],"nice":false}}}},
     {"transform":[{"filter":"datum.g==='A'"}],"mark":{"type":"tick","orient":"horizontal","color":"#808080","size":44,"thickness":3,"clip":true},"encoding":{"y":{"field":"hi","type":"quantitative","scale":{"domain":[0,10.47],"nice":false}}}},
     {"transform":[{"filter":"datum.g==='A'"}],"mark":{"type":"point","shape":"triangle-up","filled":false,"color":"#808080","size":780,"strokeWidth":2.5}},
     {"transform":[{"filter":"datum.g==='B'"}],"mark":{"type":"rule","color":"#00e600","strokeWidth":3,"clip":true},"encoding":{"y":{"field":"lo","type":"quantitative","scale":{"domain":[0,10.47],"nice":false}},"y2":{"field":"hi"}}},
     {"transform":[{"filter":"datum.g==='B'"}],"mark":{"type":"tick","orient":"horizontal","color":"#00e600","size":44,"thickness":3,"clip":true},"encoding":{"y":{"field":"lo","type":"quantitative","scale":{"domain":[0,10.47],"nice":false}}}},
     {"transform":[{"filter":"datum.g==='B'"}],"mark":{"type":"tick","orient":"horizontal","color":"#00e600","size":44,"thickness":3,"clip":true},"encoding":{"y":{"field":"hi","type":"quantitative","scale":{"domain":[0,10.47],"nice":false}}}},
     {"transform":[{"filter":"datum.g==='B'"}],"mark":{"type":"point","shape":"circle","filled":false,"color":"#00e600","size":680,"strokeWidth":2.5}}
    ]},
   {"transform":[{"filter":"datum.g==='L'"}],"mark":{"type":"text","align":"left","baseline":"alphabetic","fontSize":77,"fontWeight":"bold","color":"black"},"encoding":{"x":{"datum":2001.05,"type":"quantitative","scale":{"domain":[2000,2021],"nice":false,"zero":false},"axis":{"orient":"top","labels":false,"grid":false,"title":null,"values":[2001,2006,2011,2016]}},"y":{"datum":8.96,"type":"quantitative","scale":{"domain":[0,10.47],"nice":false},"axis":{"orient":"right","labels":false,"grid":false,"title":null,"values":[0,2,4,6,8,10]}},"text":{"field":"name"}}},
   {"transform":[{"filter":"datum.g==='L'"}],"mark":{"type":"text","align":"left","baseline":"alphabetic","fontSize":77,"fontWeight":"bold","color":"#00e600"},"encoding":{"x":{"datum":2001.05,"type":"quantitative","scale":{"domain":[2000,2021],"nice":false,"zero":false},"axis":null},"y":{"datum":7.95,"type":"quantitative","scale":{"domain":[0,10.47],"nice":false},"axis":null},"text":{"field":"b"}}},
   {"transform":[{"filter":"datum.g==='L'"}],"mark":{"type":"text","align":"left","baseline":"alphabetic","fontSize":77,"fontWeight":"bold","color":"#808080"},"encoding":{"x":{"datum":2001.05,"type":"quantitative","scale":{"domain":[2000,2021],"nice":false,"zero":false},"axis":null},"y":{"datum":6.88,"type":"quantitative","scale":{"domain":[0,10.47],"nice":false},"axis":null},"text":{"field":"a"}}}
  ]},
 {"width":1015,"height":688,"transform":[{"filter":"datum.c==='San Diego'"}],"resolve":{"axis":{"x":"independent","y":"independent"}},
  "layer":[
   {"encoding":{"x":{"field":"x","type":"quantitative","scale":{"domain":[2000,2021],"nice":false,"zero":false},"axis":{"values":[2001,2006,2011,2016],"format":"d","title":null}},
     "y":{"field":"v","type":"quantitative","scale":{"domain":[0,10.47],"nice":false},"axis":{"values":[0,2,4,6,8,10],"title":"ASD (%)"}}},
    "layer":[
     {"transform":[{"filter":"datum.g==='fA'"}],"mark":{"type":"line","color":"#808080","strokeWidth":6},"encoding":{"strokeDash":{"field":"s","type":"nominal","scale":{"domain":["pre","post"],"range":[[34,16,6,16],[1,0]]},"legend":null}}},
     {"transform":[{"filter":"datum.g==='fB'"}],"mark":{"type":"line","color":"#00e600","strokeWidth":7},"encoding":{"strokeDash":{"field":"s","type":"nominal","scale":{"domain":["pre","post"],"range":[[34,16,6,16],[1,0]]},"legend":null}}},
     {"transform":[{"filter":"datum.g==='A'"}],"mark":{"type":"rule","color":"#808080","strokeWidth":3,"clip":true},"encoding":{"y":{"field":"lo","type":"quantitative","scale":{"domain":[0,10.47],"nice":false}},"y2":{"field":"hi"}}},
     {"transform":[{"filter":"datum.g==='A'"}],"mark":{"type":"tick","orient":"horizontal","color":"#808080","size":44,"thickness":3,"clip":true},"encoding":{"y":{"field":"lo","type":"quantitative","scale":{"domain":[0,10.47],"nice":false}}}},
     {"transform":[{"filter":"datum.g==='A'"}],"mark":{"type":"tick","orient":"horizontal","color":"#808080","size":44,"thickness":3,"clip":true},"encoding":{"y":{"field":"hi","type":"quantitative","scale":{"domain":[0,10.47],"nice":false}}}},
     {"transform":[{"filter":"datum.g==='A'"}],"mark":{"type":"point","shape":"triangle-up","filled":false,"color":"#808080","size":780,"strokeWidth":2.5}},
     {"transform":[{"filter":"datum.g==='B'"}],"mark":{"type":"rule","color":"#00e600","strokeWidth":3,"clip":true},"encoding":{"y":{"field":"lo","type":"quantitative","scale":{"domain":[0,10.47],"nice":false}},"y2":{"field":"hi"}}},
     {"transform":[{"filter":"datum.g==='B'"}],"mark":{"type":"tick","orient":"horizontal","color":"#00e600","size":44,"thickness":3,"clip":true},"encoding":{"y":{"field":"lo","type":"quantitative","scale":{"domain":[0,10.47],"nice":false}}}},
     {"transform":[{"filter":"datum.g==='B'"}],"mark":{"type":"tick","orient":"horizontal","color":"#00e600","size":44,"thickness":3,"clip":true},"encoding":{"y":{"field":"hi","type":"quantitative","scale":{"domain":[0,10.47],"nice":false}}}},
     {"transform":[{"filter":"datum.g==='B'"}],"mark":{"type":"point","shape":"circle","filled":false,"color":"#00e600","size":680,"strokeWidth":2.5}}
    ]},
   {"transform":[{"filter":"datum.g==='L'"}],"mark":{"type":"text","align":"left","baseline":"alphabetic","fontSize":77,"fontWeight":"bold","color":"black"},"encoding":{"x":{"datum":2001.05,"type":"quantitative","scale":{"domain":[2000,2021],"nice":false,"zero":false},"axis":{"orient":"top","labels":false,"grid":false,"title":null,"values":[2001,2006,2011,2016]}},"y":{"datum":8.96,"type":"quantitative","scale":{"domain":[0,10.47],"nice":false},"axis":{"orient":"right","labels":false,"grid":false,"title":null,"values":[0,2,4,6,8,10]}},"text":{"field":"name"}}},
   {"transform":[{"filter":"datum.g==='L'"}],"mark":{"type":"text","align":"left","baseline":"alphabetic","fontSize":77,"fontWeight":"bold","color":"#00e600"},"encoding":{"x":{"datum":2001.05,"type":"quantitative","scale":{"domain":[2000,2021],"nice":false,"zero":false},"axis":null},"y":{"datum":7.95,"type":"quantitative","scale":{"domain":[0,10.47],"nice":false},"axis":null},"text":{"field":"b"}}},
   {"transform":[{"filter":"datum.g==='L'"}],"mark":{"type":"text","align":"left","baseline":"alphabetic","fontSize":77,"fontWeight":"bold","color":"#808080"},"encoding":{"x":{"datum":2001.05,"type":"quantitative","scale":{"domain":[2000,2021],"nice":false,"zero":false},"axis":null},"y":{"datum":6.88,"type":"quantitative","scale":{"domain":[0,10.47],"nice":false},"axis":null},"text":{"field":"a"}}}
  ]},
 {"width":1015,"height":688,"transform":[{"filter":"datum.c==='Los Angeles'"}],"resolve":{"axis":{"x":"independent","y":"independent"}},
  "layer":[
   {"encoding":{"x":{"field":"x","type":"quantitative","scale":{"domain":[2000,2021],"nice":false,"zero":false},"axis":{"values":[2001,2006,2011,2016],"format":"d","title":null}},
     "y":{"field":"v","type":"quantitative","scale":{"domain":[0,10.47],"nice":false},"axis":{"values":[0,2,4,6,8,10],"title":null,"labels":false}}},
    "layer":[
     {"transform":[{"filter":"datum.g==='fA'"}],"mark":{"type":"line","color":"#808080","strokeWidth":6},"encoding":{"strokeDash":{"field":"s","type":"nominal","scale":{"domain":["pre","post"],"range":[[34,16,6,16],[1,0]]},"legend":null}}},
     {"transform":[{"filter":"datum.g==='fB'"}],"mark":{"type":"line","color":"#00e600","strokeWidth":7},"encoding":{"strokeDash":{"field":"s","type":"nominal","scale":{"domain":["pre","post"],"range":[[34,16,6,16],[1,0]]},"legend":null}}},
     {"transform":[{"filter":"datum.g==='A'"}],"mark":{"type":"rule","color":"#808080","strokeWidth":3,"clip":true},"encoding":{"y":{"field":"lo","type":"quantitative","scale":{"domain":[0,10.47],"nice":false}},"y2":{"field":"hi"}}},
     {"transform":[{"filter":"datum.g==='A'"}],"mark":{"type":"tick","orient":"horizontal","color":"#808080","size":44,"thickness":3,"clip":true},"encoding":{"y":{"field":"lo","type":"quantitative","scale":{"domain":[0,10.47],"nice":false}}}},
     {"transform":[{"filter":"datum.g==='A'"}],"mark":{"type":"tick","orient":"horizontal","color":"#808080","size":44,"thickness":3,"clip":true},"encoding":{"y":{"field":"hi","type":"quantitative","scale":{"domain":[0,10.47],"nice":false}}}},
     {"transform":[{"filter":"datum.g==='A'"}],"mark":{"type":"point","shape":"triangle-up","filled":false,"color":"#808080","size":780,"strokeWidth":2.5}},
     {"transform":[{"filter":"datum.g==='B'"}],"mark":{"type":"rule","color":"#00e600","strokeWidth":3,"clip":true},"encoding":{"y":{"field":"lo","type":"quantitative","scale":{"domain":[0,10.47],"nice":false}},"y2":{"field":"hi"}}},
     {"transform":[{"filter":"datum.g==='B'"}],"mark":{"type":"tick","orient":"horizontal","color":"#00e600","size":44,"thickness":3,"clip":true},"encoding":{"y":{"field":"lo","type":"quantitative","scale":{"domain":[0,10.47],"nice":false}}}},
     {"transform":[{"filter":"datum.g==='B'"}],"mark":{"type":"tick","orient":"horizontal","color":"#00e600","size":44,"thickness":3,"clip":true},"encoding":{"y":{"field":"hi","type":"quantitative","scale":{"domain":[0,10.47],"nice":false}}}},
     {"transform":[{"filter":"datum.g==='B'"}],"mark":{"type":"point","shape":"circle","filled":false,"color":"#00e600","size":680,"strokeWidth":2.5}}
    ]},
   {"transform":[{"filter":"datum.g==='L'"}],"mark":{"type":"text","align":"left","baseline":"alphabetic","fontSize":77,"fontWeight":"bold","color":"black"},"encoding":{"x":{"datum":2001.05,"type":"quantitative","scale":{"domain":[2000,2021],"nice":false,"zero":false},"axis":{"orient":"top","labels":false,"grid":false,"title":null,"values":[2001,2006,2011,2016]}},"y":{"datum":8.96,"type":"quantitative","scale":{"domain":[0,10.47],"nice":false},"axis":{"orient":"right","labels":false,"grid":false,"title":null,"values":[0,2,4,6,8,10]}},"text":{"field":"name"}}},
   {"transform":[{"filter":"datum.g==='L'"}],"mark":{"type":"text","align":"left","baseline":"alphabetic","fontSize":77,"fontWeight":"bold","color":"#00e600"},"encoding":{"x":{"datum":2001.05,"type":"quantitative","scale":{"domain":[2000,2021],"nice":false,"zero":false},"axis":null},"y":{"datum":7.95,"type":"quantitative","scale":{"domain":[0,10.47],"nice":false},"axis":null},"text":{"field":"b"}}},
   {"transform":[{"filter":"datum.g==='L'"}],"mark":{"type":"text","align":"left","baseline":"alphabetic","fontSize":77,"fontWeight":"bold","color":"#808080"},"encoding":{"x":{"datum":2001.05,"type":"quantitative","scale":{"domain":[2000,2021],"nice":false,"zero":false},"axis":null},"y":{"datum":6.88,"type":"quantitative","scale":{"domain":[0,10.47],"nice":false},"axis":null},"text":{"field":"a"}}}
  ]},
 {"width":1015,"height":688,"transform":[{"filter":"datum.c==='Sacramento'"}],"resolve":{"axis":{"x":"independent","y":"independent"}},
  "layer":[
   {"encoding":{"x":{"field":"x","type":"quantitative","scale":{"domain":[2000,2021],"nice":false,"zero":false},"axis":{"values":[2001,2006,2011,2016],"format":"d","title":null}},
     "y":{"field":"v","type":"quantitative","scale":{"domain":[0,10.47],"nice":false},"axis":{"values":[0,2,4,6,8,10],"title":null,"labels":false}}},
    "layer":[
     {"transform":[{"filter":"datum.g==='fA'"}],"mark":{"type":"line","color":"#808080","strokeWidth":6},"encoding":{"strokeDash":{"field":"s","type":"nominal","scale":{"domain":["pre","post"],"range":[[34,16,6,16],[1,0]]},"legend":null}}},
     {"transform":[{"filter":"datum.g==='fB'"}],"mark":{"type":"line","color":"#00e600","strokeWidth":7},"encoding":{"strokeDash":{"field":"s","type":"nominal","scale":{"domain":["pre","post"],"range":[[34,16,6,16],[1,0]]},"legend":null}}},
     {"transform":[{"filter":"datum.g==='A'"}],"mark":{"type":"rule","color":"#808080","strokeWidth":3,"clip":true},"encoding":{"y":{"field":"lo","type":"quantitative","scale":{"domain":[0,10.47],"nice":false}},"y2":{"field":"hi"}}},
     {"transform":[{"filter":"datum.g==='A'"}],"mark":{"type":"tick","orient":"horizontal","color":"#808080","size":44,"thickness":3,"clip":true},"encoding":{"y":{"field":"lo","type":"quantitative","scale":{"domain":[0,10.47],"nice":false}}}},
     {"transform":[{"filter":"datum.g==='A'"}],"mark":{"type":"tick","orient":"horizontal","color":"#808080","size":44,"thickness":3,"clip":true},"encoding":{"y":{"field":"hi","type":"quantitative","scale":{"domain":[0,10.47],"nice":false}}}},
     {"transform":[{"filter":"datum.g==='A'"}],"mark":{"type":"point","shape":"triangle-up","filled":false,"color":"#808080","size":780,"strokeWidth":2.5}},
     {"transform":[{"filter":"datum.g==='B'"}],"mark":{"type":"rule","color":"#00e600","strokeWidth":3,"clip":true},"encoding":{"y":{"field":"lo","type":"quantitative","scale":{"domain":[0,10.47],"nice":false}},"y2":{"field":"hi"}}},
     {"transform":[{"filter":"datum.g==='B'"}],"mark":{"type":"tick","orient":"horizontal","color":"#00e600","size":44,"thickness":3,"clip":true},"encoding":{"y":{"field":"lo","type":"quantitative","scale":{"domain":[0,10.47],"nice":false}}}},
     {"transform":[{"filter":"datum.g==='B'"}],"mark":{"type":"tick","orient":"horizontal","color":"#00e600","size":44,"thickness":3,"clip":true},"encoding":{"y":{"field":"hi","type":"quantitative","scale":{"domain":[0,10.47],"nice":false}}}},
     {"transform":[{"filter":"datum.g==='B'"}],"mark":{"type":"point","shape":"circle","filled":false,"color":"#00e600","size":680,"strokeWidth":2.5}}
    ]},
   {"transform":[{"filter":"datum.g==='L'"}],"mark":{"type":"text","align":"left","baseline":"alphabetic","fontSize":77,"fontWeight":"bold","color":"black"},"encoding":{"x":{"datum":2001.05,"type":"quantitative","scale":{"domain":[2000,2021],"nice":false,"zero":false},"axis":{"orient":"top","labels":false,"grid":false,"title":null,"values":[2001,2006,2011,2016]}},"y":{"datum":8.96,"type":"quantitative","scale":{"domain":[0,10.47],"nice":false},"axis":{"orient":"right","labels":false,"grid":false,"title":null,"values":[0,2,4,6,8,10]}},"text":{"field":"name"}}},
   {"transform":[{"filter":"datum.g==='L'"}],"mark":{"type":"text","align":"left","baseline":"alphabetic","fontSize":77,"fontWeight":"bold","color":"#00e600"},"encoding":{"x":{"datum":2001.05,"type":"quantitative","scale":{"domain":[2000,2021],"nice":false,"zero":false},"axis":null},"y":{"datum":7.95,"type":"quantitative","scale":{"domain":[0,10.47],"nice":false},"axis":null},"text":{"field":"b"}}},
   {"transform":[{"filter":"datum.g==='L'"}],"mark":{"type":"text","align":"left","baseline":"alphabetic","fontSize":77,"fontWeight":"bold","color":"#808080"},"encoding":{"x":{"datum":2001.05,"type":"quantitative","scale":{"domain":[2000,2021],"nice":false,"zero":false},"axis":null},"y":{"datum":6.88,"type":"quantitative","scale":{"domain":[0,10.47],"nice":false},"axis":null},"text":{"field":"a"}}}
  ]},
 {"width":1015,"height":688,"transform":[{"filter":"datum.c==='Solano'"}],"resolve":{"axis":{"x":"independent","y":"independent"}},
  "layer":[
   {"encoding":{"x":{"field":"x","type":"quantitative","scale":{"domain":[2000,2021],"nice":false,"zero":false},"axis":{"values":[2001,2006,2011,2016],"format":"d","title":"Birth Year"}},
     "y":{"field":"v","type":"quantitative","scale":{"domain":[0,10.47],"nice":false},"axis":{"values":[0,2,4,6,8,10],"title":"ASD (%)"}}},
    "layer":[
     {"transform":[{"filter":"datum.g==='fA'"}],"mark":{"type":"line","color":"#808080","strokeWidth":6},"encoding":{"strokeDash":{"field":"s","type":"nominal","scale":{"domain":["pre","post"],"range":[[34,16,6,16],[1,0]]},"legend":null}}},
     {"transform":[{"filter":"datum.g==='fB'"}],"mark":{"type":"line","color":"#00e600","strokeWidth":7},"encoding":{"strokeDash":{"field":"s","type":"nominal","scale":{"domain":["pre","post"],"range":[[34,16,6,16],[1,0]]},"legend":null}}},
     {"transform":[{"filter":"datum.g==='A'"}],"mark":{"type":"rule","color":"#808080","strokeWidth":3,"clip":true},"encoding":{"y":{"field":"lo","type":"quantitative","scale":{"domain":[0,10.47],"nice":false}},"y2":{"field":"hi"}}},
     {"transform":[{"filter":"datum.g==='A'"}],"mark":{"type":"tick","orient":"horizontal","color":"#808080","size":44,"thickness":3,"clip":true},"encoding":{"y":{"field":"lo","type":"quantitative","scale":{"domain":[0,10.47],"nice":false}}}},
     {"transform":[{"filter":"datum.g==='A'"}],"mark":{"type":"tick","orient":"horizontal","color":"#808080","size":44,"thickness":3,"clip":true},"encoding":{"y":{"field":"hi","type":"quantitative","scale":{"domain":[0,10.47],"nice":false}}}},
     {"transform":[{"filter":"datum.g==='A'"}],"mark":{"type":"point","shape":"triangle-up","filled":false,"color":"#808080","size":780,"strokeWidth":2.5}},
     {"transform":[{"filter":"datum.g==='B'"}],"mark":{"type":"rule","color":"#00e600","strokeWidth":3,"clip":true},"encoding":{"y":{"field":"lo","type":"quantitative","scale":{"domain":[0,10.47],"nice":false}},"y2":{"field":"hi"}}},
     {"transform":[{"filter":"datum.g==='B'"}],"mark":{"type":"tick","orient":"horizontal","color":"#00e600","size":44,"thickness":3,"clip":true},"encoding":{"y":{"field":"lo","type":"quantitative","scale":{"domain":[0,10.47],"nice":false}}}},
     {"transform":[{"filter":"datum.g==='B'"}],"mark":{"type":"tick","orient":"horizontal","color":"#00e600","size":44,"thickness":3,"clip":true},"encoding":{"y":{"field":"hi","type":"quantitative","scale":{"domain":[0,10.47],"nice":false}}}},
     {"transform":[{"filter":"datum.g==='B'"}],"mark":{"type":"point","shape":"circle","filled":false,"color":"#00e600","size":680,"strokeWidth":2.5}}
    ]},
   {"transform":[{"filter":"datum.g==='L'"}],"mark":{"type":"text","align":"left","baseline":"alphabetic","fontSize":77,"fontWeight":"bold","color":"black"},"encoding":{"x":{"datum":2001.05,"type":"quantitative","scale":{"domain":[2000,2021],"nice":false,"zero":false},"axis":{"orient":"top","labels":false,"grid":false,"title":null,"values":[2001,2006,2011,2016]}},"y":{"datum":8.96,"type":"quantitative","scale":{"domain":[0,10.47],"nice":false},"axis":{"orient":"right","labels":false,"grid":false,"title":null,"values":[0,2,4,6,8,10]}},"text":{"field":"name"}}},
   {"transform":[{"filter":"datum.g==='L'"}],"mark":{"type":"text","align":"left","baseline":"alphabetic","fontSize":77,"fontWeight":"bold","color":"#00e600"},"encoding":{"x":{"datum":2001.05,"type":"quantitative","scale":{"domain":[2000,2021],"nice":false,"zero":false},"axis":null},"y":{"datum":7.95,"type":"quantitative","scale":{"domain":[0,10.47],"nice":false},"axis":null},"text":{"field":"b"}}},
   {"transform":[{"filter":"datum.g==='L'"}],"mark":{"type":"text","align":"left","baseline":"alphabetic","fontSize":77,"fontWeight":"bold","color":"#808080"},"encoding":{"x":{"datum":2001.05,"type":"quantitative","scale":{"domain":[2000,2021],"nice":false,"zero":false},"axis":null},"y":{"datum":6.88,"type":"quantitative","scale":{"domain":[0,10.47],"nice":false},"axis":null},"text":{"field":"a"}}}
  ]},
 {"width":1015,"height":688,"transform":[{"filter":"datum.c==='Fresno'"}],"resolve":{"axis":{"x":"independent","y":"independent"}},
  "layer":[
   {"encoding":{"x":{"field":"x","type":"quantitative","scale":{"domain":[2000,2021],"nice":false,"zero":false},"axis":{"values":[2001,2006,2011,2016],"format":"d","title":"Birth Year"}},
     "y":{"field":"v","type":"quantitative","scale":{"domain":[0,10.47],"nice":false},"axis":{"values":[0,2,4,6,8,10],"title":null,"labels":false}}},
    "layer":[
     {"transform":[{"filter":"datum.g==='fA'"}],"mark":{"type":"line","color":"#808080","strokeWidth":6},"encoding":{"strokeDash":{"field":"s","type":"nominal","scale":{"domain":["pre","post"],"range":[[34,16,6,16],[1,0]]},"legend":null}}},
     {"transform":[{"filter":"datum.g==='fB'"}],"mark":{"type":"line","color":"#00e600","strokeWidth":7},"encoding":{"strokeDash":{"field":"s","type":"nominal","scale":{"domain":["pre","post"],"range":[[34,16,6,16],[1,0]]},"legend":null}}},
     {"transform":[{"filter":"datum.g==='A'"}],"mark":{"type":"rule","color":"#808080","strokeWidth":3,"clip":true},"encoding":{"y":{"field":"lo","type":"quantitative","scale":{"domain":[0,10.47],"nice":false}},"y2":{"field":"hi"}}},
     {"transform":[{"filter":"datum.g==='A'"}],"mark":{"type":"tick","orient":"horizontal","color":"#808080","size":44,"thickness":3,"clip":true},"encoding":{"y":{"field":"lo","type":"quantitative","scale":{"domain":[0,10.47],"nice":false}}}},
     {"transform":[{"filter":"datum.g==='A'"}],"mark":{"type":"tick","orient":"horizontal","color":"#808080","size":44,"thickness":3,"clip":true},"encoding":{"y":{"field":"hi","type":"quantitative","scale":{"domain":[0,10.47],"nice":false}}}},
     {"transform":[{"filter":"datum.g==='A'"}],"mark":{"type":"point","shape":"triangle-up","filled":false,"color":"#808080","size":780,"strokeWidth":2.5}},
     {"transform":[{"filter":"datum.g==='B'"}],"mark":{"type":"rule","color":"#00e600","strokeWidth":3,"clip":true},"encoding":{"y":{"field":"lo","type":"quantitative","scale":{"domain":[0,10.47],"nice":false}},"y2":{"field":"hi"}}},
     {"transform":[{"filter":"datum.g==='B'"}],"mark":{"type":"tick","orient":"horizontal","color":"#00e600","size":44,"thickness":3,"clip":true},"encoding":{"y":{"field":"lo","type":"quantitative","scale":{"domain":[0,10.47],"nice":false}}}},
     {"transform":[{"filter":"datum.g==='B'"}],"mark":{"type":"tick","orient":"horizontal","color":"#00e600","size":44,"thickness":3,"clip":true},"encoding":{"y":{"field":"hi","type":"quantitative","scale":{"domain":[0,10.47],"nice":false}}}},
     {"transform":[{"filter":"datum.g==='B'"}],"mark":{"type":"point","shape":"circle","filled":false,"color":"#00e600","size":680,"strokeWidth":2.5}}
    ]},
   {"transform":[{"filter":"datum.g==='L'"}],"mark":{"type":"text","align":"left","baseline":"alphabetic","fontSize":77,"fontWeight":"bold","color":"black"},"encoding":{"x":{"datum":2001.05,"type":"quantitative","scale":{"domain":[2000,2021],"nice":false,"zero":false},"axis":{"orient":"top","labels":false,"grid":false,"title":null,"values":[2001,2006,2011,2016]}},"y":{"datum":8.96,"type":"quantitative","scale":{"domain":[0,10.47],"nice":false},"axis":{"orient":"right","labels":false,"grid":false,"title":null,"values":[0,2,4,6,8,10]}},"text":{"field":"name"}}},
   {"transform":[{"filter":"datum.g==='L'"}],"mark":{"type":"text","align":"left","baseline":"alphabetic","fontSize":77,"fontWeight":"bold","color":"#00e600"},"encoding":{"x":{"datum":2001.05,"type":"quantitative","scale":{"domain":[2000,2021],"nice":false,"zero":false},"axis":null},"y":{"datum":7.95,"type":"quantitative","scale":{"domain":[0,10.47],"nice":false},"axis":null},"text":{"field":"b"}}},
   {"transform":[{"filter":"datum.g==='L'"}],"mark":{"type":"text","align":"left","baseline":"alphabetic","fontSize":77,"fontWeight":"bold","color":"#808080"},"encoding":{"x":{"datum":2001.05,"type":"quantitative","scale":{"domain":[2000,2021],"nice":false,"zero":false},"axis":null},"y":{"datum":6.88,"type":"quantitative","scale":{"domain":[0,10.47],"nice":false},"axis":null},"text":{"field":"a"}}}
  ]},
 {"width":1015,"height":688,"transform":[{"filter":"datum.c==='Kern'"}],"resolve":{"axis":{"x":"independent","y":"independent"}},
  "layer":[
   {"encoding":{"x":{"field":"x","type":"quantitative","scale":{"domain":[2000,2021],"nice":false,"zero":false},"axis":{"values":[2001,2006,2011,2016],"format":"d","title":"Birth Year"}},
     "y":{"field":"v","type":"quantitative","scale":{"domain":[0,10.47],"nice":false},"axis":{"values":[0,2,4,6,8,10],"title":null,"labels":false}}},
    "layer":[
     {"transform":[{"filter":"datum.g==='fA'"}],"mark":{"type":"line","color":"#808080","strokeWidth":6},"encoding":{"strokeDash":{"field":"s","type":"nominal","scale":{"domain":["pre","post"],"range":[[34,16,6,16],[1,0]]},"legend":null}}},
     {"transform":[{"filter":"datum.g==='fB'"}],"mark":{"type":"line","color":"#00e600","strokeWidth":7},"encoding":{"strokeDash":{"field":"s","type":"nominal","scale":{"domain":["pre","post"],"range":[[34,16,6,16],[1,0]]},"legend":null}}},
     {"transform":[{"filter":"datum.g==='A'"}],"mark":{"type":"rule","color":"#808080","strokeWidth":3,"clip":true},"encoding":{"y":{"field":"lo","type":"quantitative","scale":{"domain":[0,10.47],"nice":false}},"y2":{"field":"hi"}}},
     {"transform":[{"filter":"datum.g==='A'"}],"mark":{"type":"tick","orient":"horizontal","color":"#808080","size":44,"thickness":3,"clip":true},"encoding":{"y":{"field":"lo","type":"quantitative","scale":{"domain":[0,10.47],"nice":false}}}},
     {"transform":[{"filter":"datum.g==='A'"}],"mark":{"type":"tick","orient":"horizontal","color":"#808080","size":44,"thickness":3,"clip":true},"encoding":{"y":{"field":"hi","type":"quantitative","scale":{"domain":[0,10.47],"nice":false}}}},
     {"transform":[{"filter":"datum.g==='A'"}],"mark":{"type":"point","shape":"triangle-up","filled":false,"color":"#808080","size":780,"strokeWidth":2.5}},
     {"transform":[{"filter":"datum.g==='B'"}],"mark":{"type":"rule","color":"#00e600","strokeWidth":3,"clip":true},"encoding":{"y":{"field":"lo","type":"quantitative","scale":{"domain":[0,10.47],"nice":false}},"y2":{"field":"hi"}}},
     {"transform":[{"filter":"datum.g==='B'"}],"mark":{"type":"tick","orient":"horizontal","color":"#00e600","size":44,"thickness":3,"clip":true},"encoding":{"y":{"field":"lo","type":"quantitative","scale":{"domain":[0,10.47],"nice":false}}}},
     {"transform":[{"filter":"datum.g==='B'"}],"mark":{"type":"tick","orient":"horizontal","color":"#00e600","size":44,"thickness":3,"clip":true},"encoding":{"y":{"field":"hi","type":"quantitative","scale":{"domain":[0,10.47],"nice":false}}}},
     {"transform":[{"filter":"datum.g==='B'"}],"mark":{"type":"point","shape":"circle","filled":false,"color":"#00e600","size":680,"strokeWidth":2.5}}
    ]},
   {"transform":[{"filter":"datum.g==='L'"}],"mark":{"type":"text","align":"left","baseline":"alphabetic","fontSize":77,"fontWeight":"bold","color":"black"},"encoding":{"x":{"datum":2001.05,"type":"quantitative","scale":{"domain":[2000,2021],"nice":false,"zero":false},"axis":{"orient":"top","labels":false,"grid":false,"title":null,"values":[2001,2006,2011,2016]}},"y":{"datum":8.96,"type":"quantitative","scale":{"domain":[0,10.47],"nice":false},"axis":{"orient":"right","labels":false,"grid":false,"title":null,"values":[0,2,4,6,8,10]}},"text":{"field":"name"}}},
   {"transform":[{"filter":"datum.g==='L'"}],"mark":{"type":"text","align":"left","baseline":"alphabetic","fontSize":77,"fontWeight":"bold","color":"#00e600"},"encoding":{"x":{"datum":2001.05,"type":"quantitative","scale":{"domain":[2000,2021],"nice":false,"zero":false},"axis":null},"y":{"datum":7.95,"type":"quantitative","scale":{"domain":[0,10.47],"nice":false},"axis":null},"text":{"field":"b"}}},
   {"transform":[{"filter":"datum.g==='L'"}],"mark":{"type":"text","align":"left","baseline":"alphabetic","fontSize":77,"fontWeight":"bold","color":"#808080"},"encoding":{"x":{"datum":2001.05,"type":"quantitative","scale":{"domain":[2000,2021],"nice":false,"zero":false},"axis":null},"y":{"datum":6.88,"type":"quantitative","scale":{"domain":[0,10.47],"nice":false},"axis":null},"text":{"field":"a"}}}
  ]}
]
}
